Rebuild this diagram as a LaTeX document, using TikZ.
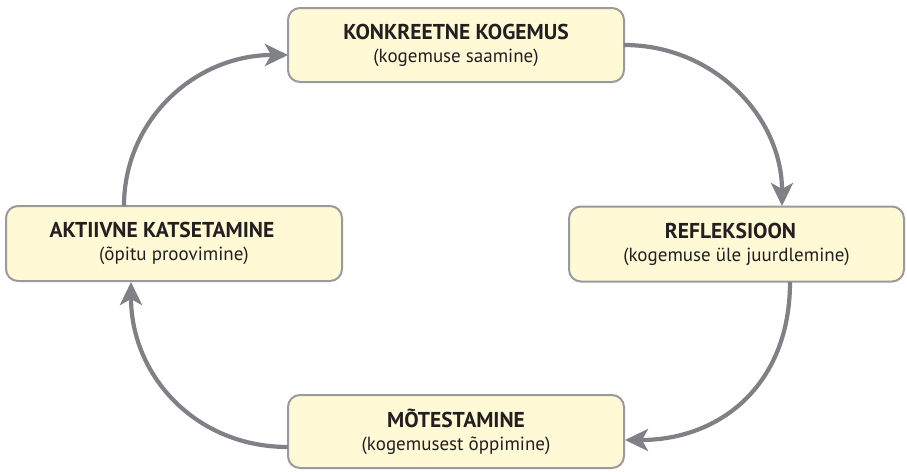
\documentclass[tikz,border=0pt]{standalone}
\usepackage{fontspec}
\setmainfont{PT Sans}
\usetikzlibrary{arrows.meta}
\definecolor{boxfill}{HTML}{FFF9D6}
\definecolor{boxline}{HTML}{9A9A9C}
\definecolor{arrowcol}{HTML}{808186}
\definecolor{textcol}{HTML}{231F20}
\tikzset{
  stagebox/.style={draw=boxline, fill=boxfill, line width=2pt, rounded corners=12pt,
    minimum width=336pt, minimum height=75pt, inner sep=0pt, align=center,
    text=textcol, font=\fontsize{19}{23}\selectfont},
  cyclearrow/.style={draw=arrowcol, line width=4.2pt,
    -{Stealth[length=23pt, width=22pt, inset=6pt]}}
}
\newcommand{\stagetitle}[1]{{\fontsize{21.5}{23}\selectfont\bfseries #1}}
\begin{document}
\begin{tikzpicture}[x=1pt, y=-1pt]
\useasboundingbox (0,0) rectangle (907,471);
\node[stagebox, minimum height=74pt] (top) at (456,45) {\stagetitle{KONKREETNE KOGEMUS}\\(kogemuse saamine)};
\node[stagebox] (left) at (174,243.5) {\stagetitle{AKTIIVNE KATSETAMINE}\hspace*{24pt}\\(õpitu proovimine)};
\node[stagebox, minimum width=335pt] (right) at (736.5,244) {\stagetitle{REFLEKSIOON}\hspace*{12pt}\\(kogemuse üle juurdlemine)};
\node[stagebox, minimum height=73pt] (bottom) at (456,431.5) {\stagetitle{MÕTESTAMINE}\\(kogemusest õppimine)};
\coordinate (a1s) at (124,206);
\coordinate (a1e) at (288,55);
\coordinate (a2s) at (624,45);
\coordinate (a2e) at (782,206);
\coordinate (a3s) at (790,282);
\coordinate (a3e) at (625,440);
\coordinate (a4s) at (288,447);
\coordinate (a4e) at (131,282);
\draw[cyclearrow] (a1s) .. controls (124,120) and (195,55) .. (a1e);
\draw[cyclearrow] (a2s) .. controls (715,45) and (782,118) .. (a2e);
\draw[cyclearrow] (a3s) .. controls (790,385) and (720,440) .. (a3e);
\draw[cyclearrow] (a4s) .. controls (195,447) and (131,375) .. (a4e);
\end{tikzpicture}
\end{document}
